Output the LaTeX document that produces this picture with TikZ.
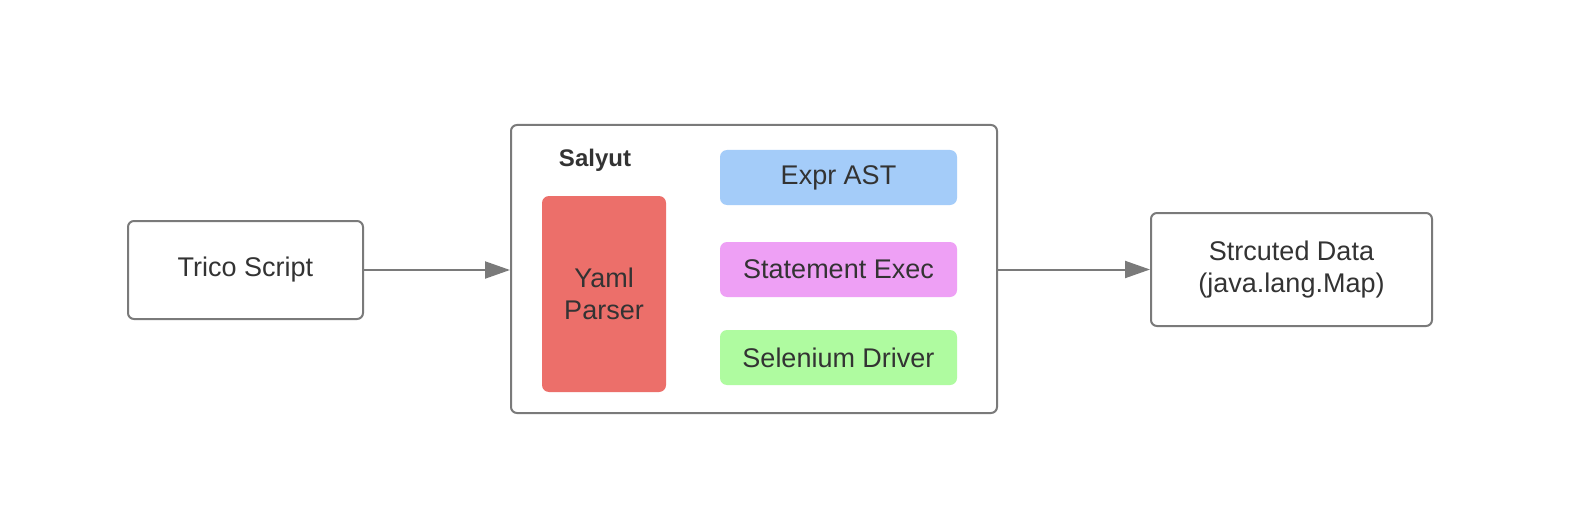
\documentclass[tikz,border=0pt]{standalone}
\usepackage{fontspec}
\setmainfont{Liberation Sans}
\usetikzlibrary{arrows.meta}
\definecolor{edge}{HTML}{7A7A7A}
\definecolor{txt}{HTML}{333333}
\definecolor{cred}{HTML}{EC6F6A}
\definecolor{cblue}{HTML}{A4CCF9}
\definecolor{cpink}{HTML}{EEA0F5}
\definecolor{cgreen}{HTML}{AFFBA0}
\tikzset{
  box/.style={draw=edge, line width=2pt, rounded corners=6pt, fill=white, inner sep=0pt, align=center, text=txt, font=\fontsize{27}{32}\selectfont},
  inbox/.style={rounded corners=7pt, inner sep=0pt, align=center, text=txt, font=\fontsize{27}{32}\selectfont},
  conn/.style={draw=edge, line width=2pt, -{Triangle[length=25pt,width=17pt]}}
}
\begin{document}
\begin{tikzpicture}[x=1pt,y=-1pt]
\useasboundingbox[fill=white] (0,0) rectangle (1582,532);
\node[box, minimum width=235pt, minimum height=98pt] (trico) at (245.5,270) {Trico Script};
\node[box, minimum width=486pt, minimum height=288pt] (salyut) at (754,269) {};
\node[text=txt, font=\bfseries\fontsize{24}{28}\selectfont] (title) at (595,160) {Salyut};
\node[inbox, fill=cred, minimum width=124pt, minimum height=196pt] (yaml) at (604,294) {Yaml\\Parser};
\node[inbox, fill=cblue, minimum width=237pt, minimum height=55pt] (expr) at (838.5,177.5) {Expr AST};
\node[inbox, fill=cpink, minimum width=237pt, minimum height=55pt] (stmt) at (838.5,269.5) {Statement Exec};
\node[inbox, fill=cgreen, minimum width=237pt, minimum height=55pt] (sel) at (838.5,357.5) {Selenium Driver};
\node[box, minimum width=281pt, minimum height=113pt] (data) at (1291.5,269.5) {Strcuted Data\\(java.lang.Map)};
\draw[conn] (trico.east) -- (trico.east -| salyut.west);
\draw[conn] (salyut.east |- data.west) -- (data.west);
\end{tikzpicture}
\end{document}
